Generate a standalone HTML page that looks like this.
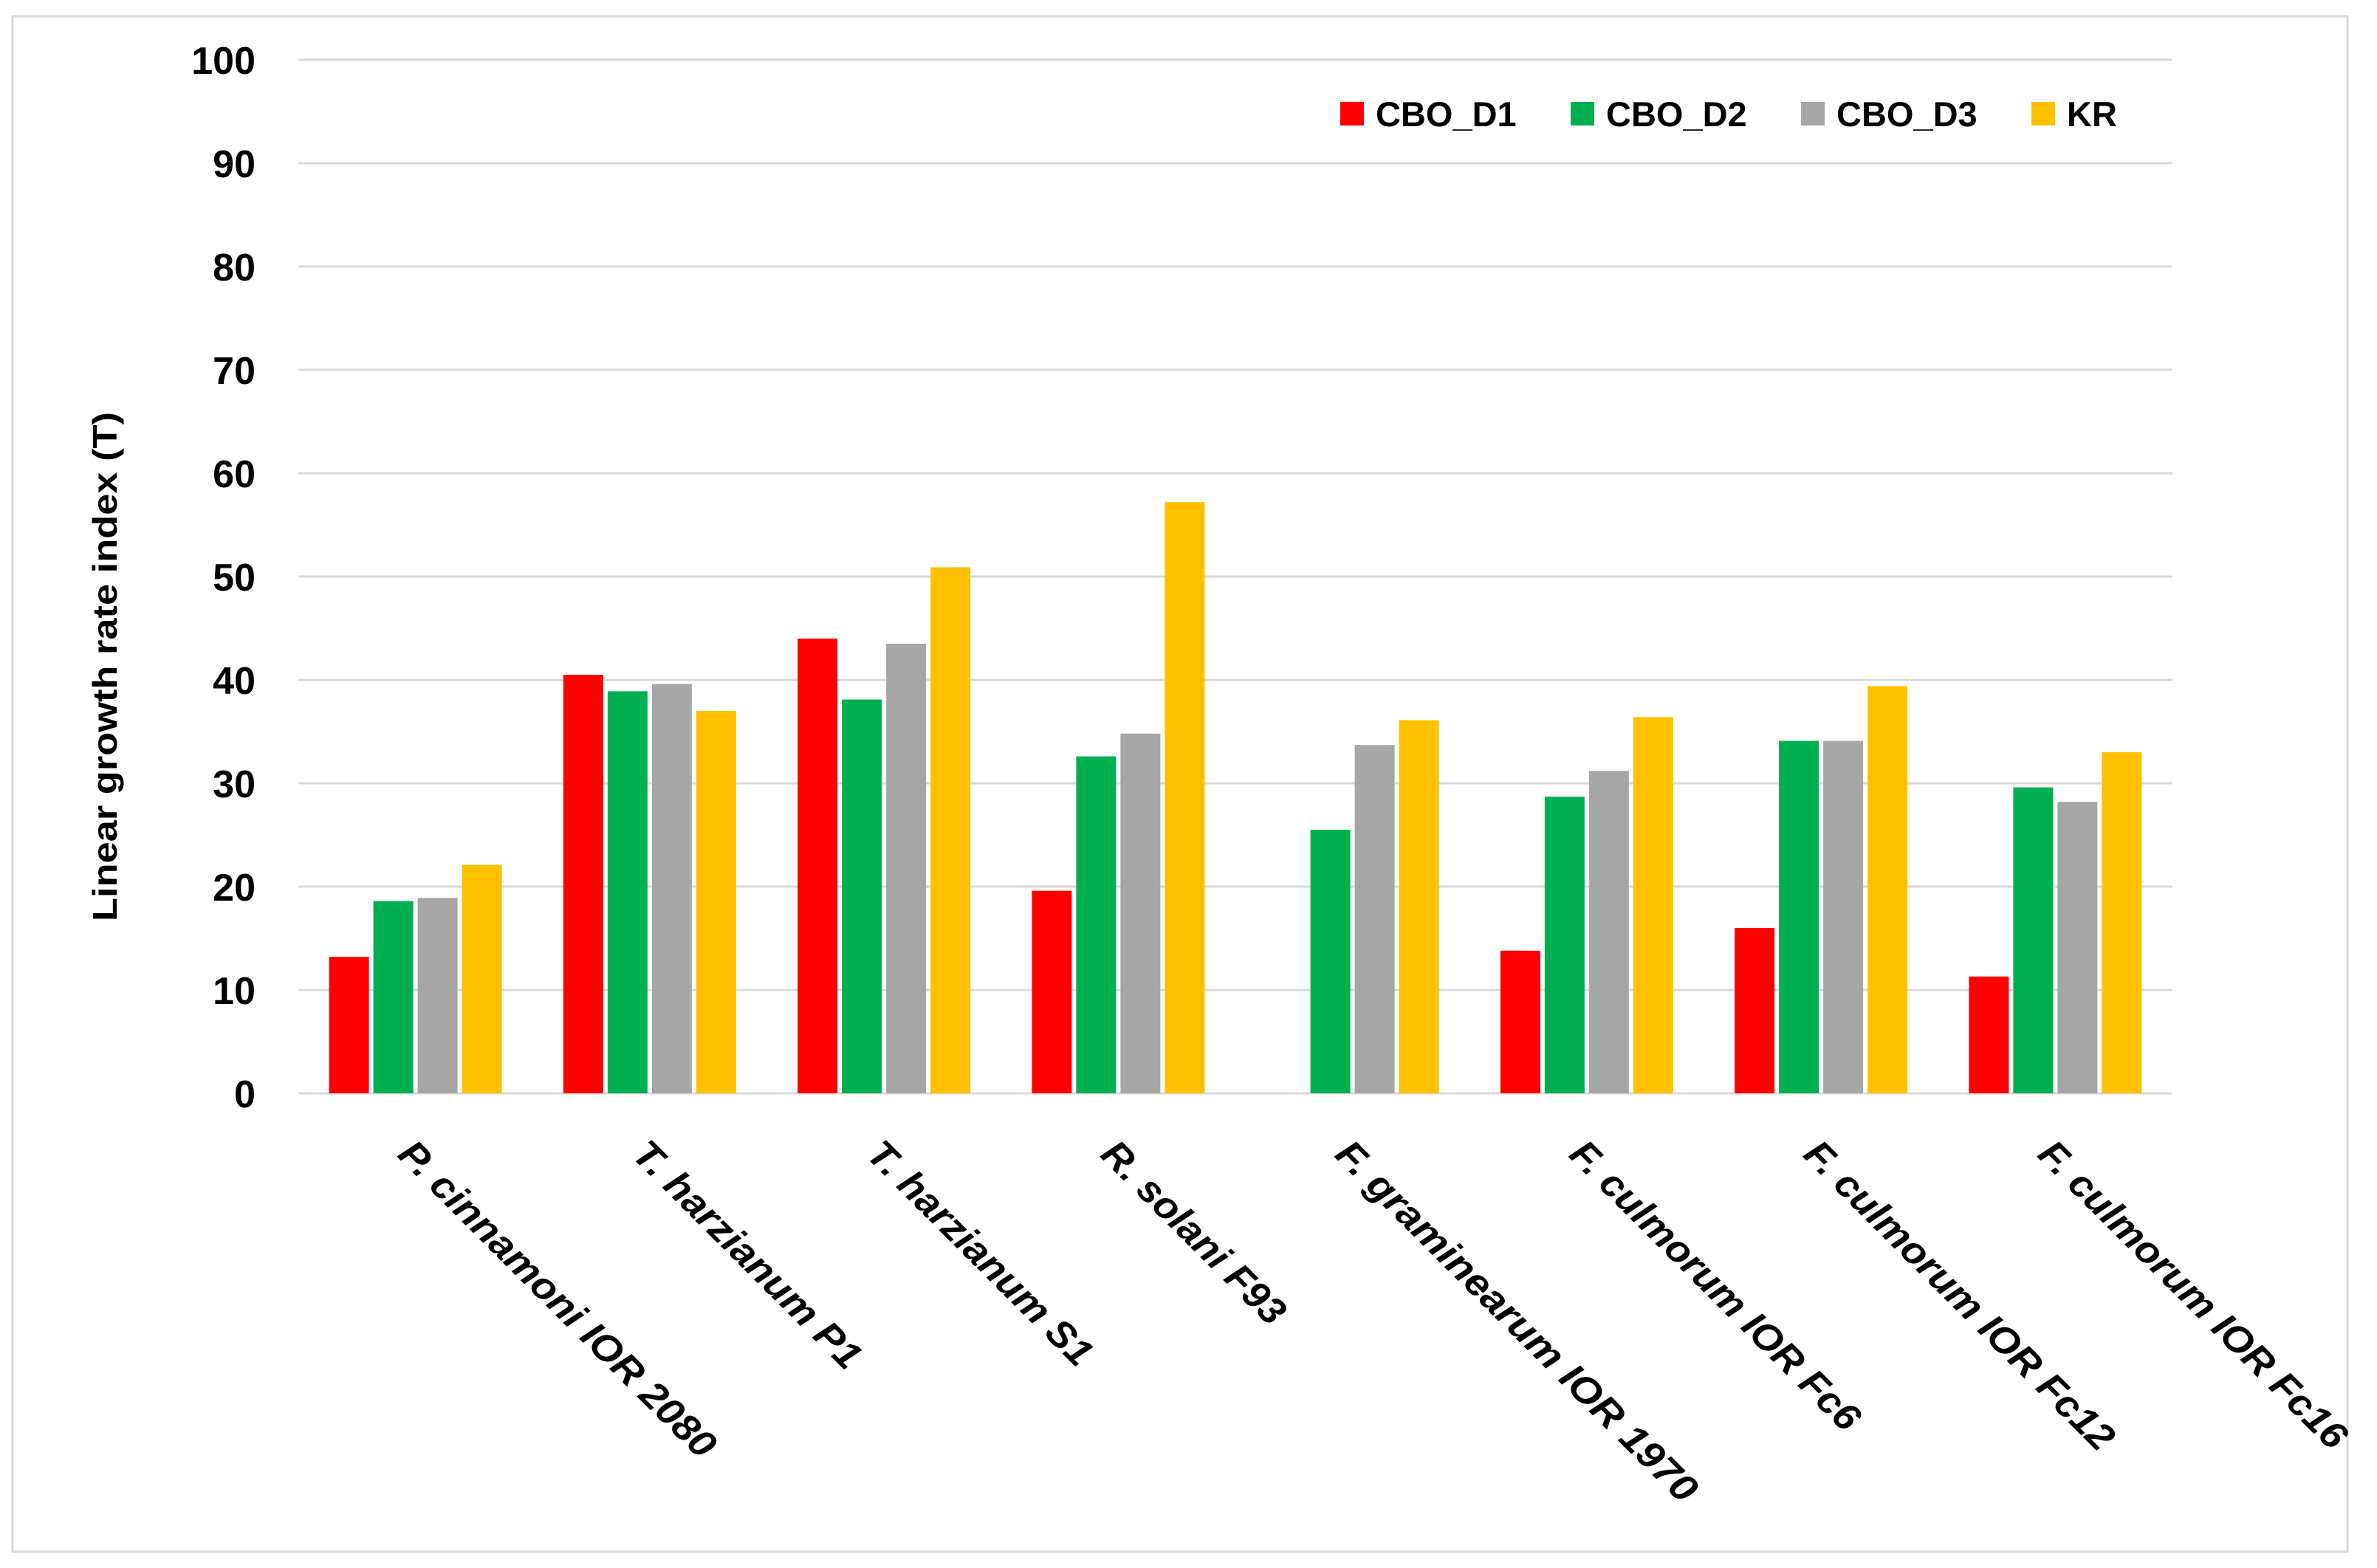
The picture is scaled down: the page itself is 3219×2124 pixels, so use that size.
<!DOCTYPE html>
<html><head><meta charset="utf-8"><style>
html,body{margin:0;padding:0;background:#fff;}
svg{display:block;}
text{font-family:"Liberation Sans",sans-serif;font-weight:bold;fill:#000;}
</style></head><body>
<svg id="chart" width="3219" height="2124" viewBox="0 0 3219 2124" xmlns="http://www.w3.org/2000/svg">
<rect x="17" y="22" width="3162" height="2080" fill="#fff" stroke="#d9d9d9" stroke-width="3"/>
<g id="grid"></g><g id="bars"></g><g id="ylabels"></g><g id="xlabels"></g><g id="legend"></g>
<text transform="translate(158,903) rotate(-90)" text-anchor="middle" font-size="46" textLength="690" lengthAdjust="spacingAndGlyphs">Linear growth rate index (T)</text>
</svg>
<script>
const categories=["P. cinnamoni IOR 2080","T. harzianum P1","T. harzianum S1","R. solani F93","F. graminearum IOR 1970","F. culmorum IOR Fc6","F. culmorum IOR Fc12","F. culmorum IOR Fc16"];
const seriesNames=["CBO_D1","CBO_D2","CBO_D3","KR"];
const cboD1=[13.2,40.5,44.0,19.6,0,13.8,16.0,11.3];
const cboD2=[18.6,38.9,38.1,32.6,25.5,28.7,34.1,29.6];
const cboD3=[18.9,39.6,43.5,34.8,33.7,31.2,34.1,28.2];
const kr=[22.1,37.0,50.9,57.2,36.1,36.4,39.4,33.0];
const yTicks=[0,10,20,30,40,50,60,70,80,90,100];
const labelLengths=[583,413,407,328,668,531,569,566];
const colors=["#ff0000","#00b050","#a6a6a6","#ffc000"];
const series=[cboD1,cboD2,cboD3,kr];
const NS="http://www.w3.org/2000/svg";
const X0=404,X1=2942,Y0=1481,Y100=81;
const band=(X1-X0)/categories.length;
function yS(v){return Y0-(v/100)*(Y0-Y100);}
function xC(i){return X0+band*(i+0.5);}
function mk(tag,attrs,parent){const e=document.createElementNS(NS,tag);for(const k in attrs)e.setAttribute(k,attrs[k]);document.getElementById(parent).appendChild(e);return e;}
yTicks.forEach(t=>{
  const l=mk("line",{x1:X0,x2:X1,y1:yS(t),y2:yS(t),stroke:"#d9d9d9","stroke-width":3},"grid");
  
  
  const tx=mk("text",{x:346,y:yS(t)+19,"text-anchor":"end","font-size":52},"ylabels");
  tx.textContent=t;
  
  
});
const bw=54,gap=6;
categories.forEach((c,i)=>{
  const gw=4*bw+3*gap;
  series.forEach((s,j)=>{
    const v=s[i];
    if(v<=0)return;
    const x=xC(i)-gw/2+j*(bw+gap);
    const r=mk("rect",{x:x,y:yS(v),width:bw,height:Y0-yS(v),fill:colors[j]},"bars");
    
    
  });
  const cx=xC(i)-26,cy=1566;
  const t=mk("text",{x:cx,y:cy,transform:`rotate(45 ${cx} ${cy})`,"font-size":52,"font-style":"italic",textLength:labelLengths[i],lengthAdjust:"spacingAndGlyphs"},"xlabels");
  t.textContent=c;
  
  
});
const legX=[1815,2127,2439,2751];
seriesNames.forEach((n,j)=>{
  const r=mk("rect",{x:legX[j],y:138,width:32,height:32,fill:colors[j]},"legend");
  
  
  const t=mk("text",{x:legX[j]+48,y:171,"font-size":47},"legend");
  t.textContent=n;
  
  
});
</script>
</body></html>
